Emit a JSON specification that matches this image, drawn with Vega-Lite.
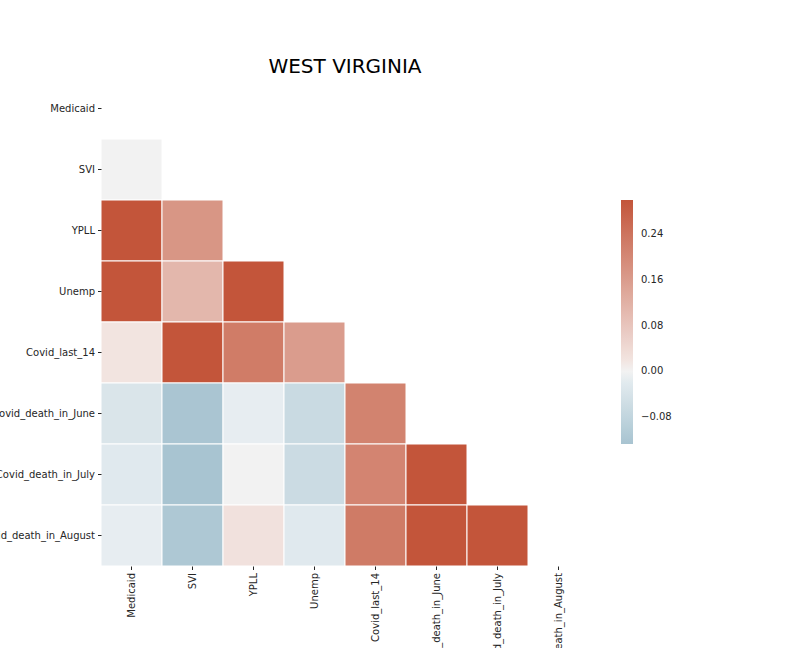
{
  "$schema": "https://vega.github.io/schema/vega-lite/v6.json",
  "autosize": {"type": "none"},
  "width": 488,
  "height": 488,
  "padding": {"left": 101, "top": 78, "right": 203, "bottom": 82},
  "title": {"text": "WEST VIRGINIA", "font": "DejaVu Sans", "fontSize": 20, "fontWeight": "normal", "color": "#000000", "anchor": "middle", "offset": 1},
  "data": {"values": [
    {"row": "SVI", "col": "Medicaid", "r": 0.0},
    {"row": "YPLL", "col": "Medicaid", "r": 0.36},
    {"row": "YPLL", "col": "SVI", "r": 0.173},
    {"row": "Unemp", "col": "Medicaid", "r": 0.35},
    {"row": "Unemp", "col": "SVI", "r": 0.108},
    {"row": "Unemp", "col": "YPLL", "r": 0.42},
    {"row": "Covid_last_14", "col": "Medicaid", "r": 0.02},
    {"row": "Covid_last_14", "col": "SVI", "r": 0.33},
    {"row": "Covid_last_14", "col": "YPLL", "r": 0.224},
    {"row": "Covid_last_14", "col": "Unemp", "r": 0.161},
    {"row": "Covid_death_in_June", "col": "Medicaid", "r": -0.034},
    {"row": "Covid_death_in_June", "col": "SVI", "r": -0.124},
    {"row": "Covid_death_in_June", "col": "YPLL", "r": -0.01},
    {"row": "Covid_death_in_June", "col": "Unemp", "r": -0.065},
    {"row": "Covid_death_in_June", "col": "Covid_last_14", "r": 0.21},
    {"row": "Covid_death_in_July", "col": "Medicaid", "r": -0.022},
    {"row": "Covid_death_in_July", "col": "SVI", "r": -0.127},
    {"row": "Covid_death_in_July", "col": "YPLL", "r": 0.0},
    {"row": "Covid_death_in_July", "col": "Unemp", "r": -0.062},
    {"row": "Covid_death_in_July", "col": "Covid_last_14", "r": 0.207},
    {"row": "Covid_death_in_July", "col": "Covid_death_in_June", "r": 0.95},
    {"row": "Covid_death_in_August", "col": "Medicaid", "r": -0.01},
    {"row": "Covid_death_in_August", "col": "SVI", "r": -0.116},
    {"row": "Covid_death_in_August", "col": "YPLL", "r": 0.025},
    {"row": "Covid_death_in_August", "col": "Unemp", "r": -0.022},
    {"row": "Covid_death_in_August", "col": "Covid_last_14", "r": 0.226},
    {"row": "Covid_death_in_August", "col": "Covid_death_in_June", "r": 0.9},
    {"row": "Covid_death_in_August", "col": "Covid_death_in_July", "r": 0.96}
  ]},
  "mark": {"type": "rect", "stroke": "#ffffff", "strokeWidth": 1},
  "encoding": {
    "x": {
      "field": "col", "type": "nominal",
      "scale": {"domain": ["Medicaid", "SVI", "YPLL", "Unemp", "Covid_last_14", "Covid_death_in_June", "Covid_death_in_July", "Covid_death_in_August"], "paddingInner": 0, "paddingOuter": 0},
      "axis": {"title": null, "labelAngle": 270, "labelAlign": "right", "labelBaseline": "middle", "labelFont": "DejaVu Sans", "labelFontSize": 10, "labelColor": "#262626", "tickColor": "#262626", "tickSize": 3.5, "tickWidth": 1, "domain": false, "labelPadding": 3, "labelLimit": 0}
    },
    "y": {
      "field": "row", "type": "nominal",
      "scale": {"domain": ["Medicaid", "SVI", "YPLL", "Unemp", "Covid_last_14", "Covid_death_in_June", "Covid_death_in_July", "Covid_death_in_August"], "paddingInner": 0, "paddingOuter": 0},
      "axis": {"title": null, "labelFont": "DejaVu Sans", "labelFontSize": 10, "labelColor": "#262626", "tickColor": "#262626", "tickSize": 3.5, "tickWidth": 1, "domain": false, "labelPadding": 3, "labelLimit": 0}
    },
    "color": {
      "field": "r", "type": "quantitative",
      "scale": {"domain": [-0.127, -0.002, 0, 0.002, 0.3], "range": ["#a8c4d1", "#ebf0f3", "#f2f2f2", "#f5edeb", "#c3553a"], "interpolate": "rgb", "clamp": true},
      "legend": {"title": null, "orient": "none", "legendX": 520, "legendY": 122, "direction": "vertical", "gradientLength": 244, "gradientThickness": 12, "gradientStrokeWidth": 0, "values": [-0.08, 0, 0.08, 0.16, 0.24], "format": ".2f", "labelFont": "DejaVu Sans", "labelFontSize": 10, "labelColor": "#262626", "labelOffset": 8}
    }
  },
  "config": {"view": {"stroke": null}}
}
